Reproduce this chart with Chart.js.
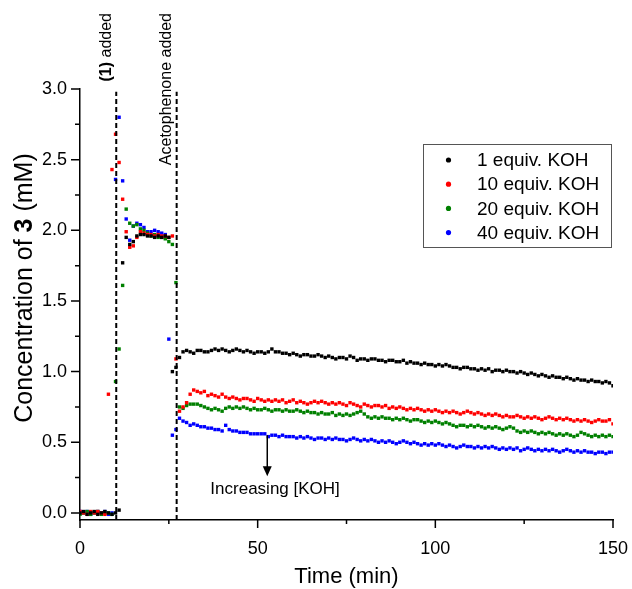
<!DOCTYPE html>
<html>
<head>
<meta charset="utf-8">
<script src="https://cdn.jsdelivr.net/npm/chart.js@4.4.1/dist/chart.umd.min.js"></script>
<style>
  html, body { margin: 0; padding: 0; background: #fff; }
  #chart { display: block; }
</style>
</head>
<body>
<canvas id="chart" width="632" height="589"></canvas>
<script>
// sampling grid (min), one reading per minute
const timeMin = Array.from({ length: 151 }, (_, i) => i);

const seriesLabels = ['1 equiv. KOH', '10 equiv. KOH', '20 equiv. KOH', '40 equiv. KOH'];
const seriesColors = ['#000000', '#ff0000', '#008000', '#0000ff'];

const koh1 = [
  0.00, 0.01, -0.01, 0.00, 0.01, -0.01, 0.00, 0.01, 0.00, -0.01,
  0.00, 0.02, 1.77, 1.95, 1.90, 1.92, 1.96, 1.97, 1.97, 1.96,
  1.96, 1.95, 1.96, 1.95, 1.96, 1.95, 1.00, 1.03, 1.10, 1.14,
  1.15, 1.14, 1.13, 1.15, 1.15, 1.14, 1.14, 1.15, 1.16, 1.15,
  1.16, 1.15, 1.14, 1.15, 1.16, 1.15, 1.14, 1.15, 1.14, 1.13,
  1.14, 1.14, 1.13, 1.14, 1.16, 1.14, 1.14, 1.13, 1.13, 1.12,
  1.13, 1.12, 1.11, 1.12, 1.12, 1.11, 1.11, 1.12, 1.11, 1.10,
  1.11, 1.10, 1.09, 1.10, 1.10, 1.09, 1.11, 1.10, 1.08, 1.09,
  1.09, 1.08, 1.09, 1.09, 1.08, 1.08, 1.07, 1.08, 1.08, 1.07,
  1.07, 1.08, 1.06, 1.07, 1.06, 1.06, 1.05, 1.06, 1.05, 1.05,
  1.04, 1.05, 1.04, 1.05, 1.04, 1.03, 1.03, 1.02, 1.03, 1.03,
  1.02, 1.02, 1.01, 1.02, 1.01, 1.02, 1.00, 1.01, 1.01, 1.00,
  1.01, 1.00, 1.00, 0.99, 1.00, 0.99, 0.98, 0.99, 0.98, 0.97,
  0.98, 0.97, 0.96, 0.97, 0.96, 0.96, 0.95, 0.96, 0.95, 0.94,
  0.95, 0.94, 0.94, 0.93, 0.94, 0.93, 0.93, 0.92, 0.93, 0.92,
  0.90
];
const koh10 = [
  0.01, 0.00, -0.01, 0.01, 0.00, 0.01, 0.00, -0.01, 0.84, 2.43,
  2.68, 2.48, 2.22, 1.99, 1.88, 1.89, 1.95, 1.99, 1.98, 1.97,
  1.97, 1.96, 1.97, 1.96, 1.96, 1.95, 1.96, 1.09, 0.72, 0.75,
  0.78, 0.84, 0.87, 0.86, 0.85, 0.86, 0.83, 0.84, 0.83, 0.82,
  0.84, 0.82, 0.81, 0.82, 0.81, 0.80, 0.81, 0.81, 0.80, 0.79,
  0.81, 0.80, 0.79, 0.80, 0.79, 0.80, 0.79, 0.80, 0.78, 0.79,
  0.80, 0.78, 0.79, 0.78, 0.77, 0.78, 0.79, 0.78, 0.79, 0.78,
  0.77, 0.78, 0.77, 0.78, 0.77, 0.76, 0.78, 0.77, 0.76, 0.75,
  0.77, 0.76, 0.75, 0.76, 0.76, 0.75, 0.76, 0.74, 0.75, 0.74,
  0.75, 0.74, 0.73, 0.74, 0.73, 0.74, 0.73, 0.72, 0.73, 0.72,
  0.73, 0.72, 0.71, 0.72, 0.71, 0.72, 0.71, 0.70, 0.71, 0.72,
  0.71, 0.70, 0.71, 0.70, 0.69, 0.70, 0.69, 0.70, 0.69, 0.68,
  0.69, 0.68, 0.68, 0.69, 0.68, 0.67, 0.68, 0.67, 0.68, 0.67,
  0.66, 0.67, 0.68, 0.67, 0.66, 0.67, 0.66, 0.67, 0.66, 0.65,
  0.66, 0.65, 0.66, 0.65, 0.64, 0.65, 0.66, 0.65, 0.65, 0.66,
  0.63
];
const koh20 = [
  -0.01, 0.00, 0.01, -0.01, 0.00, 0.01, -0.01, 0.00, 0.00, -0.01,
  0.93, 1.16, 1.61, 2.15, 2.05, 2.03, 2.04, 2.01, 2.00, 1.98,
  1.96, 1.97, 1.95, 1.95, 1.94, 1.92, 1.90, 1.63, 0.75, 0.74,
  0.76, 0.77, 0.77, 0.77, 0.76, 0.75, 0.74, 0.73, 0.74, 0.73,
  0.72, 0.74, 0.75, 0.74, 0.75, 0.74, 0.75, 0.74, 0.73, 0.74,
  0.73, 0.73, 0.74, 0.73, 0.72, 0.73, 0.73, 0.72, 0.73, 0.72,
  0.72, 0.73, 0.72, 0.71, 0.72, 0.71, 0.71, 0.70, 0.71, 0.70,
  0.70, 0.71, 0.69, 0.70, 0.69, 0.70, 0.69, 0.70, 0.71, 0.72,
  0.70, 0.68, 0.67, 0.68, 0.67, 0.68, 0.67, 0.67, 0.66, 0.67,
  0.66, 0.67, 0.66, 0.65, 0.66, 0.66, 0.65, 0.64, 0.65, 0.64,
  0.65, 0.64, 0.63, 0.64, 0.63, 0.62, 0.61, 0.62, 0.62, 0.61,
  0.62, 0.61, 0.62, 0.61, 0.60, 0.61, 0.60, 0.61, 0.60, 0.59,
  0.60, 0.61, 0.60, 0.58, 0.57, 0.58, 0.57, 0.58, 0.57, 0.56,
  0.57, 0.56, 0.57, 0.56, 0.55, 0.56, 0.55, 0.56, 0.55, 0.54,
  0.55, 0.57, 0.56, 0.55, 0.54, 0.55, 0.54, 0.55, 0.54, 0.55,
  0.54
];
const koh40 = [
  0.01, 0.00, 0.01, -0.01, 0.00, 0.01, 0.00, 0.01, -0.01, 0.00,
  2.36, 2.80, 2.35, 2.08, 1.93, 2.03, 2.05, 2.04, 2.02, 1.99,
  1.99, 2.00, 1.99, 1.98, 1.97, 1.23, 0.55, 0.59, 0.67, 0.65,
  0.64, 0.62, 0.63, 0.62, 0.61, 0.61, 0.60, 0.60, 0.59, 0.59,
  0.58, 0.62, 0.59, 0.58, 0.58, 0.57, 0.57, 0.57, 0.56, 0.56,
  0.56, 0.56, 0.56, 0.54, 0.55, 0.55, 0.54, 0.55, 0.54, 0.54,
  0.54, 0.53, 0.54, 0.53, 0.54, 0.53, 0.52, 0.53, 0.53, 0.52,
  0.53, 0.52, 0.53, 0.52, 0.52, 0.51, 0.52, 0.53, 0.52, 0.51,
  0.52, 0.51, 0.52, 0.51, 0.50, 0.51, 0.50, 0.51, 0.50, 0.49,
  0.50, 0.51, 0.50, 0.49, 0.50, 0.49, 0.48, 0.49, 0.48, 0.49,
  0.48, 0.49, 0.48, 0.47, 0.48, 0.47, 0.46, 0.47, 0.48, 0.47,
  0.47, 0.46, 0.47, 0.46, 0.47, 0.46, 0.47, 0.46, 0.45, 0.46,
  0.45, 0.46, 0.45, 0.46, 0.44, 0.45, 0.46, 0.45, 0.44, 0.45,
  0.44, 0.45, 0.44, 0.45, 0.44, 0.43, 0.44, 0.45, 0.44, 0.43,
  0.44, 0.43, 0.44, 0.43, 0.43, 0.42, 0.43, 0.43, 0.42, 0.43,
  0.43
];

const xMajorTicks = [0, 50, 100, 150];
const xMinorTicks = [25, 75, 125];
const yMajorTicks = [0, 0.5, 1.0, 1.5, 2.0, 2.5, 3.0];
const yMinorTicks = [0.25, 0.75, 1.25, 1.75, 2.25, 2.75];

// events marked by dashed lines: time (min), label parts [text, bold]
const eventTimes = [10.2, 27.2];
const eventLabels = [
  [['(1)', true], [' added', false]],
  [['Acetophenone added', false]]
];

const FONT = '"Liberation Sans", Arial, sans-serif';

const decorations = {
  id: 'decorations',
  afterDraw(chart) {
    const { ctx, scales: { x, y } } = chart;
    const axisY = y.bottom;
    const axisX = x.left;
    ctx.save();
    ctx.strokeStyle = '#000';
    ctx.fillStyle = '#000';

    // tick marks
    ctx.lineWidth = 1.5;
    ctx.beginPath();
    xMajorTicks.forEach(v => { const p = x.getPixelForValue(v); ctx.moveTo(p, axisY); ctx.lineTo(p, axisY + 8); });
    xMinorTicks.forEach(v => { const p = x.getPixelForValue(v); ctx.moveTo(p, axisY); ctx.lineTo(p, axisY + 4); });
    yMajorTicks.forEach(v => { const p = y.getPixelForValue(v); ctx.moveTo(axisX, p); ctx.lineTo(axisX - 9, p); });
    yMinorTicks.forEach(v => { const p = y.getPixelForValue(v); ctx.moveTo(axisX, p); ctx.lineTo(axisX - 5, p); });
    ctx.stroke();

    // dashed event lines and their rotated labels
    ctx.lineWidth = 2;
    ctx.setLineDash([5, 3]);
    eventTimes.forEach(t => {
      const px = x.getPixelForValue(t);
      ctx.beginPath();
      ctx.moveTo(px, axisY);
      ctx.lineTo(px, y.getPixelForValue(2.98));
      ctx.stroke();
    });
    ctx.setLineDash([]);

    eventTimes.forEach((t, i) => {
      const px = x.getPixelForValue(t);
      const parts = eventLabels[i];
      let total = 0;
      parts.forEach(([s, b]) => { ctx.font = (b ? 'bold ' : '') + '16px ' + FONT; total += ctx.measureText(s).width; });
      ctx.save();
      ctx.translate(px - 2, 13 + total);
      ctx.rotate(-Math.PI / 2);
      ctx.textAlign = 'left';
      ctx.textBaseline = 'bottom';
      let off = 0;
      parts.forEach(([s, b]) => {
        ctx.font = (b ? 'bold ' : '') + '16px ' + FONT;
        ctx.fillText(s, off, 0);
        off += ctx.measureText(s).width;
      });
      ctx.restore();
    });

    // arrow: increasing [KOH]
    const ax = x.getPixelForValue(52.7);
    const aTop = y.getPixelForValue(0.55);
    const aBot = y.getPixelForValue(0.26);
    ctx.lineWidth = 1.5;
    ctx.beginPath();
    ctx.moveTo(ax, aTop);
    ctx.lineTo(ax, aBot - 8);
    ctx.stroke();
    ctx.beginPath();
    ctx.moveTo(ax - 4.5, aBot - 10);
    ctx.lineTo(ax + 4.5, aBot - 10);
    ctx.lineTo(ax, aBot);
    ctx.closePath();
    ctx.fill();

    ctx.font = '17px ' + FONT;
    ctx.textAlign = 'center';
    ctx.textBaseline = 'middle';
    ctx.fillText('Increasing [KOH]', x.getPixelForValue(54.9), y.getPixelForValue(0.165));

    // axis titles
    ctx.font = '22px ' + FONT;
    ctx.fillText('Time (min)', (x.left + x.right) / 2, 577);

    const yParts = [['Concentration of ', false], ['3', true], [' (mM)', false]];
    let yTotal = 0;
    yParts.forEach(([s, b]) => { ctx.font = (b ? 'bold ' : '') + '25px ' + FONT; yTotal += ctx.measureText(s).width; });
    ctx.save();
    ctx.translate(25, 288);
    ctx.rotate(-Math.PI / 2);
    ctx.textAlign = 'left';
    ctx.textBaseline = 'middle';
    let yo = -yTotal / 2;
    yParts.forEach(([s, b]) => {
      ctx.font = (b ? 'bold ' : '') + '25px ' + FONT;
      ctx.fillText(s, yo, 0);
      yo += ctx.measureText(s).width;
    });
    ctx.restore();

    // legend box
    const lx = 423.5, ly = 144.5, lw = 188, lh = 103;
    ctx.lineWidth = 1;
    ctx.strokeStyle = '#555';
    ctx.strokeRect(lx, ly, lw, lh);
    ctx.font = '19px ' + FONT;
    ctx.textAlign = 'left';
    ctx.textBaseline = 'middle';
    chart.data.datasets.forEach((ds, i) => {
      const ry = 160 + i * 24.2;
      ctx.fillStyle = ds.backgroundColor;
      ctx.beginPath();
      ctx.arc(448.5, ry, 2.6, 0, Math.PI * 2);
      ctx.fill();
      ctx.fillStyle = '#000';
      ctx.fillText(ds.label, 477, ry + 1);
    });

    ctx.restore();
  }
};

const seriesValues = [koh1, koh10, koh20, koh40];

new Chart(document.getElementById('chart'), {
  type: 'scatter',
  data: {
    datasets: seriesValues.map((vals, i) => ({
      label: seriesLabels[i],
      data: timeMin.map((t, j) => ({ x: t, y: vals[j] })),
      backgroundColor: seriesColors[i],
      borderColor: seriesColors[i],
      pointStyle: 'rect',
      pointRadius: 2.4,
      pointBorderWidth: 0
    }))
  },
  options: {
    responsive: false,
    animation: false,
    layout: { padding: { top: 89, right: 19, bottom: 0, left: 0 } },
    plugins: {
      legend: { display: false },
      tooltip: { enabled: false }
    },
    scales: {
      x: {
        type: 'linear',
        min: 0,
        max: 150,
        afterFit: s => { s.height = 69; s.paddingLeft = 0; s.paddingRight = 0; },
        afterBuildTicks: s => { s.ticks = xMajorTicks.map(v => ({ value: v })); },
        grid: { display: false },
        border: { display: true, color: '#000', width: 1.5 },
        ticks: {
          padding: 10,
          color: '#000',
          font: { family: FONT, size: 18 },
          maxRotation: 0,
          callback: v => String(v)
        }
      },
      y: {
        type: 'linear',
        min: -0.05,
        max: 3.0,
        afterFit: s => { s.width = 80; s.paddingTop = 0; s.paddingBottom = 0; },
        afterBuildTicks: s => { s.ticks = yMajorTicks.map(v => ({ value: v })); },
        grid: { display: false },
        border: { display: true, color: '#000', width: 1.5 },
        ticks: {
          padding: 5,
          color: '#000',
          font: { family: FONT, size: 18 },
          callback: v => Number(v).toFixed(1)
        }
      }
    }
  },
  plugins: [decorations]
});
</script>
</body>
</html>
